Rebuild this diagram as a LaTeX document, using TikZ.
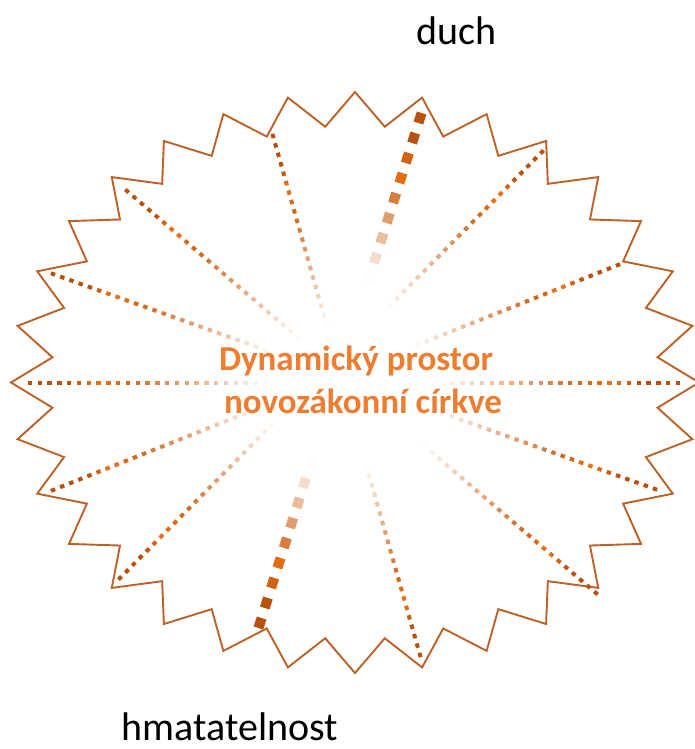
\documentclass[tikz,border=0pt]{standalone}
\usepackage{fontspec}
\setmainfont{Carlito}
\definecolor{starline}{HTML}{BC6228}
\definecolor{raydark}{HTML}{B6520E}
\definecolor{raybright}{HTML}{EE7318}
\definecolor{titleorange}{HTML}{ED7D31}

% One dotted ray between two end points: the dots are strongest at both ends
% and fade out towards the middle.
% #1,#2 first end; #3,#4 second end; #5 dot width; #6 dot length;
% #7 dot period; #8 fade start; #9 fade end (fractions of the half length)
\newcommand\fadingray[9]{%
  \pgfmathsetmacro\rayL{veclen(#3-#1,#4-#2)}%
  \pgfmathsetmacro\rayH{\rayL/2}%
  \pgfmathsetmacro\rayUx{(#3-#1)/\rayL}%
  \pgfmathsetmacro\rayUy{(#4-#2)/\rayL}%
  \pgfmathtruncatemacro\rayN{\rayH*#9/#7}%
  \foreach \i in {0,...,\rayN}{%
    \pgfmathsetmacro\rs{\i*#7/\rayH}%
    \pgfmathsetmacro\ral{\rs<#8 ? 1 : max(0,1-(\rs-#8)/(#9-#8))}%
    \pgfmathsetmacro\rmix{\rs<0.12 ? 100 : (\rs<0.2 ? 100-(\rs-0.12)*1250 : (\rs<0.32 ? (\rs-0.2)*500 : 60))}%
    \pgfmathsetmacro\rd{\i*#7-#6/2}%
    \draw[line width=#5, draw=raydark!\rmix!raybright, draw opacity=\ral]
      ({#1+\rd*\rayUx},{#2+\rd*\rayUy}) -- ++({#6*\rayUx},{#6*\rayUy});
    \draw[line width=#5, draw=raydark!\rmix!raybright, draw opacity=\ral]
      ({#3-\rd*\rayUx},{#4-\rd*\rayUy}) -- ++({-#6*\rayUx},{-#6*\rayUy});
  }%
}

\tikzset{
  starshape/.style={draw=starline, line width=1.9pt, line join=miter},
  titletext/.style={font=\fontsize{35}{42}\selectfont\bfseries, text=titleorange, inner sep=0pt, anchor=base},
  poletext/.style={font=\fontsize{40}{48}\selectfont, text=black, inner sep=0pt, anchor=base},
}

\begin{document}
\begin{tikzpicture}[x=1pt, y=-1pt]
\useasboundingbox (0,0) rectangle (694,749);
\fill[white] (0,0) rectangle (694,749);

% zigzag star: 32 outer tips, 32 inner notches
\draw[starshape] (699,382.5)
  \foreach \k in {0,...,31}{
    -- ({355+304*cos(\k*11.25+5.625)},{382.5-257*sin(\k*11.25+5.625)})
    -- ({355+344*cos((\k+1)*11.25)},{382.5-290.5*sin((\k+1)*11.25)})
  } -- cycle;

% thick ray between the two poles
\fadingray{420}{118}{260}{623}{10}{10.5}{21}{0.24}{0.64}
% thin rays
\fadingray{273}{136}{420}{655}{4}{4.5}{9.8}{0.28}{0.74}
\fadingray{542}{152}{120}{578}{4}{4.5}{9.8}{0.28}{0.74}
\fadingray{127}{191}{596}{593}{4}{4.5}{9.8}{0.28}{0.74}
\fadingray{53}{274}{655}{489}{4}{4.5}{9.8}{0.28}{0.74}
\fadingray{30}{383}{678}{383}{4}{4.5}{9.8}{0.28}{0.74}
\fadingray{53}{490}{618}{265}{4}{4.5}{9.8}{0.28}{0.74}

% centre title
\node[titletext] (title1) at (356,370) {Dynamický prostor};
\node[titletext] (title2) at (363,413) {novozákonní církve};

% poles
\node[poletext] (duch) at (456.5,45) {duch};
\node[poletext] (hmat) at (230,740) {hmatatelnost};
\end{tikzpicture}
\end{document}
